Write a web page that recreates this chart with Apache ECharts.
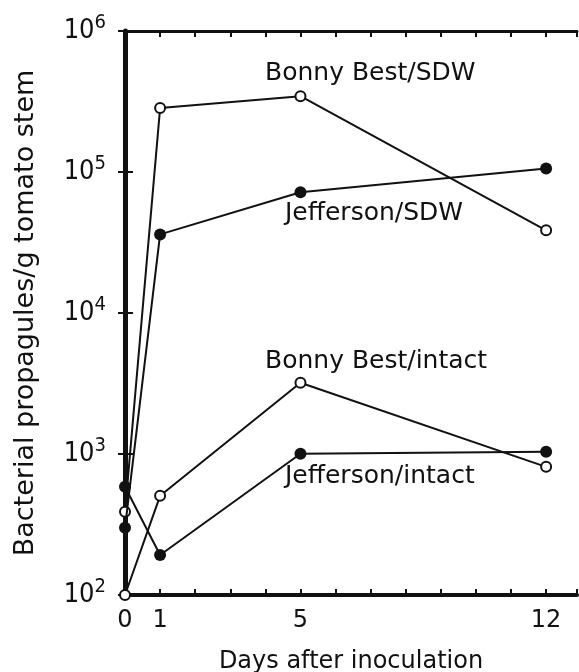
<!DOCTYPE html>
<html>
<head>
<meta charset="utf-8">
<script src="https://cdn.jsdelivr.net/npm/echarts@6/dist/echarts.min.js"></script>
<style>
html,body{margin:0;padding:0;background:#fff}
#chart{width:579px;height:672px}
</style>
</head>
<body>
<div id="chart"></div>
<script>
// data
var days = [0, 1, 5, 12];
var dayLabels = [0, 1, 5, 12];
var bonnySdw = [390, 284000, 345000, 38600];
var jeffSdw = [300, 36100, 71800, 106000];
var bonnyIntact = [100, 505, 3200, 811];
var jeffIntact = [585, 192, 1005, 1037];

var FONT = 'DejaVu Sans';
var NARROW = '"DejaVu Sans Condensed", "Liberation Sans Narrow", "DejaVu Sans"';
var INK = '#111';

function pairs(vals) {
    return days.map(function (d, i) { return [d, vals[i]]; });
}

function openLine(name, vals) {
    return {
        name: name, type: 'line', data: pairs(vals), clip: false,
        symbol: 'circle', symbolSize: 10,
        lineStyle: { color: INK, width: 2 },
        itemStyle: { color: '#fff', borderColor: INK, borderWidth: 2 },
        z: 3
    };
}
function filledLine(name, vals) {
    return {
        name: name, type: 'line', data: pairs(vals), clip: false,
        symbol: 'circle', symbolSize: 12,
        lineStyle: { color: INK, width: 2 },
        itemStyle: { color: INK, borderWidth: 0 },
        z: 4
    };
}

// curve labels inside the plot
function note(text, x, y) {
    return {
        type: 'text', left: x, top: y,
        style: { text: text, font: '25px "' + FONT + '"', fill: INK }
    };
}

var chart = echarts.init(document.getElementById('chart'));
var option = {
    animation: false,
    backgroundColor: '#fff',
    grid: { left: 125, right: 2, top: 31, bottom: 77, outerBoundsMode: 'none', containLabel: false },
    xAxis: [{
        type: 'value', min: 0, max: 12.88, interval: 1,
        name: 'Days after inoculation', nameLocation: 'middle', nameGap: 55,
        nameTextStyle: { fontFamily: FONT, fontSize: 24, color: INK },
        axisLine: { lineStyle: { color: INK, width: 4 } },
        axisTick: { inside: true, length: 6, lineStyle: { color: INK, width: 2 } },
        axisLabel: {
            fontFamily: FONT, fontSize: 24, color: INK, margin: 14,
            formatter: function (v) { return dayLabels.indexOf(v) >= 0 ? String(v) : ''; }
        },
        splitLine: { show: false }
    }, {
        type: 'value', position: 'top', min: 0, max: 12.88, interval: 1,
        axisLine: { lineStyle: { color: INK, width: 3 } },
        axisTick: { inside: true, length: 6, lineStyle: { color: INK, width: 2 } },
        axisLabel: { show: false },
        splitLine: { show: false }
    }],
    yAxis: [{
        type: 'log', logBase: 10, min: 100, max: 1000000,
        name: 'Bacterial propagules/g tomato stem', nameLocation: 'middle', nameGap: 86,
        nameMoveOverlap: false,
        nameTextStyle: { fontFamily: FONT, fontSize: 27, color: INK },
        axisLine: { lineStyle: { color: INK, width: 5 } },
        axisTick: { inside: true, length: 8, lineStyle: { color: INK, width: 2 } },
        axisLabel: {
            margin: 19, color: INK,
            formatter: function (v) {
                var e = Math.round(Math.log(v) / Math.LN10);
                return '{b|10}{s|' + e + '}';
            },
            rich: {
                b: { fontFamily: NARROW, fontSize: 27, color: INK },
                s: { fontFamily: NARROW, fontSize: 20, color: INK, padding: [0, 0, 17, 0] }
            }
        },
        splitLine: { show: false }
    }, {
        type: 'log', logBase: 10, min: 100, max: 1000000, position: 'right',
        axisLine: { lineStyle: { color: INK, width: 2 } },
        axisTick: { inside: true, length: 7, lineStyle: { color: INK, width: 2 } },
        axisLabel: { show: false },
        splitLine: { show: false }
    }],
    series: [
        openLine('Bonny Best/SDW', bonnySdw),
        filledLine('Jefferson/SDW', jeffSdw),
        openLine('Bonny Best/intact', bonnyIntact),
        filledLine('Jefferson/intact', jeffIntact)
    ],
    graphic: [
        note('Bonny Best/SDW', 265, 61),
        note('Jefferson/SDW', 285, 201),
        note('Bonny Best/intact', 265, 349),
        note('Jefferson/intact', 285, 464)
    ]
};
chart.setOption(option);
</script>
</body>
</html>
